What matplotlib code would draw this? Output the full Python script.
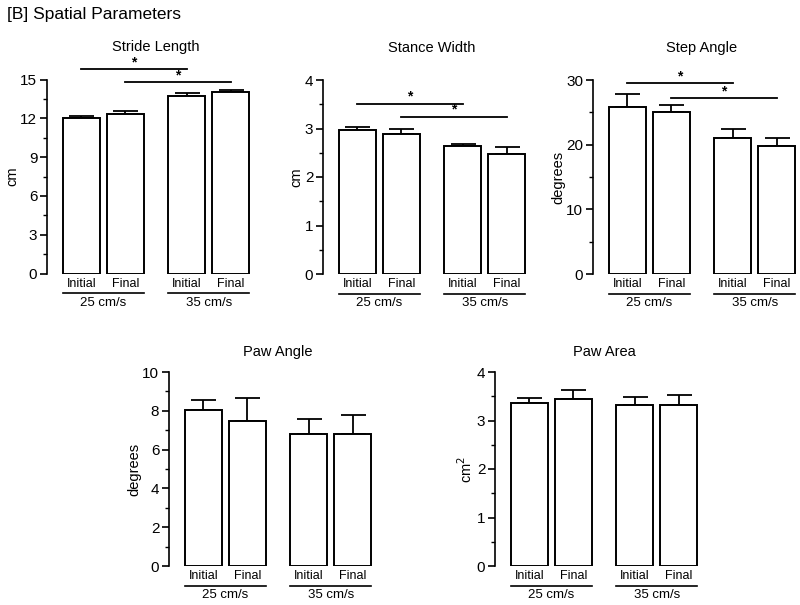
import numpy as np
import matplotlib
matplotlib.use('Agg')
import matplotlib.pyplot as plt
import matplotlib.transforms as mtransforms
from matplotlib.ticker import MultipleLocator

plt.rcParams['font.family'] = ['Liberation Sans', 'DejaVu Sans']

# data (bar height, upper error)
conditions = ['Initial', 'Final', 'Initial', 'Final']
speeds = ['25 cm/s', '35 cm/s']

stride_mean = [12.0, 12.3, 13.7, 14.0]
stride_err = [0.2, 0.3, 0.25, 0.15]

stance_mean = [2.97, 2.89, 2.63, 2.48]
stance_err = [0.07, 0.11, 0.06, 0.13]

step_mean = [25.8, 25.0, 21.1, 19.8]
step_err = [2.1, 1.2, 1.4, 1.2]

paw_angle_mean = [8.04, 7.5, 6.78, 6.8]
paw_angle_err = [0.5, 1.15, 0.8, 1.0]

paw_area_mean = [3.36, 3.44, 3.31, 3.31]
paw_area_err = [0.1, 0.18, 0.17, 0.22]

# significance pairs (bar index a, bar index b)
sig_pairs = [(0, 2), (1, 3)]

W, H = 800, 605
pos = np.array([0, 1, 2.4, 3.4])
bar_w = 0.84
ax_w = 208 / W
ax_h = 194 / H


def draw_panel(fig, left_px, bottom_px, title, ylabel, means, errs,
               ymax, major, sig_y=None, title_pad=32):
    ax = fig.add_axes([left_px / W, (H - bottom_px) / H, ax_w, ax_h])
    ax.bar(pos, means, width=bar_w, color='white', edgecolor='black',
           linewidth=1.4, zorder=2)
    ax.errorbar(pos, means, yerr=[np.zeros(len(errs)), errs], fmt='none',
                ecolor='black', elinewidth=1.3, capsize=9, capthick=1.3,
                zorder=1)
    ax.set_xlim(-0.78, 3.95)
    ax.set_ylim(0, ymax)
    for s in ['top', 'right', 'bottom']:
        ax.spines[s].set_visible(False)
    ax.spines['left'].set_linewidth(1.2)
    ax.yaxis.set_major_locator(MultipleLocator(major))
    ax.yaxis.set_minor_locator(MultipleLocator(major / 2))
    ax.tick_params(axis='y', which='major', length=5, width=1.2,
                   labelsize=11, pad=2)
    ax.tick_params(axis='y', which='minor', length=3, width=1.0)
    ax.set_xticks(pos)
    ax.set_xticklabels(conditions, fontsize=9)
    ax.tick_params(axis='x', length=0, pad=3)
    ax.set_ylabel(ylabel, fontsize=10.5, labelpad=1)

    trans = mtransforms.blended_transform_factory(ax.transData, ax.transAxes)
    for g, label in enumerate(speeds):
        x0 = pos[2 * g] - bar_w / 2
        x1 = pos[2 * g + 1] + bar_w / 2
        ax.plot([x0, x1], [-0.103, -0.103], color='black', lw=1.2,
                transform=trans, clip_on=False)
        ax.text((x0 + x1) / 2, -0.152, label, transform=trans, fontsize=9.5,
                ha='center', va='center')

    ax.text(pos.mean(), 1 + title_pad / 194, title, transform=trans,
            ha='center', va='center', fontsize=10.5)

    if sig_y is not None:
        for (a, b), yy in zip(sig_pairs, sig_y):
            ax.plot([pos[a], pos[b]], [yy, yy], color='black', lw=1.3,
                    clip_on=False)
            ax.text((pos[a] + pos[b]) / 2, yy, '*', ha='center',
                    va='bottom', fontsize=10, fontweight='bold')
    return ax


fig = plt.figure(figsize=(8, 6.05), dpi=100)
fig.text(7 / W, 1 - 15 / H, '[B] Spatial Parameters', fontsize=12.5,
         ha='left', va='center')

draw_panel(fig, 47, 273.5, 'Stride Length', 'cm', stride_mean, stride_err,
           15, 3, sig_y=[15.8, 14.77])
draw_panel(fig, 323, 274, 'Stance Width', 'cm', stance_mean, stance_err,
           4, 1, sig_y=[3.51, 3.24])
draw_panel(fig, 593, 274, 'Step Angle', 'degrees', step_mean, step_err,
           30, 10, sig_y=[29.5, 27.2])
draw_panel(fig, 169, 566, 'Paw Angle', 'degrees', paw_angle_mean,
           paw_angle_err, 10, 2, title_pad=20)
draw_panel(fig, 495, 566, 'Paw Area', 'cm$^2$', paw_area_mean, paw_area_err,
           4, 1, title_pad=20)

fig.savefig('out.png', dpi=100)
